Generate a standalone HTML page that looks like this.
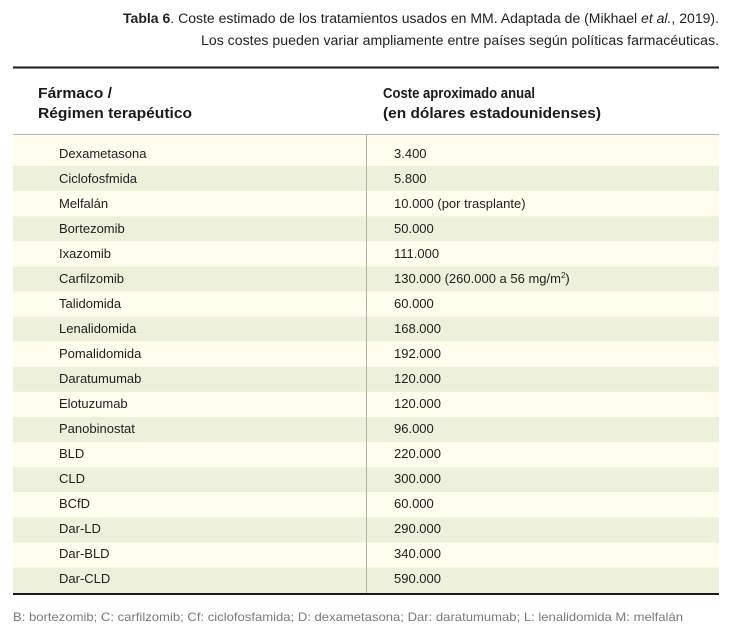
<!DOCTYPE html>
<html><head><meta charset="utf-8"><style>
html,body{margin:0;padding:0;background:#fff;}
svg{display:block;}
text{font-family:"Liberation Sans",sans-serif;}
</style></head><body>
<svg width="732" height="642" viewBox="0 0 732 642" xmlns="http://www.w3.org/2000/svg">
<rect width="732" height="642" fill="#fff"/>
<!-- title -->
<text x="123" y="23" font-size="13.5" fill="#222" textLength="596" lengthAdjust="spacingAndGlyphs"><tspan font-weight="bold">Tabla 6</tspan>. Coste estimado de los tratamientos usados en MM. Adaptada de (Mikhael <tspan font-style="italic">et al.</tspan>, 2019).</text>
<text x="201" y="45" font-size="13.5" fill="#222" textLength="518" lengthAdjust="spacingAndGlyphs">Los costes pueden variar ampliamente entre países según políticas farmacéuticas.</text>
<!-- top rule -->
<rect x="13" y="66.5" width="706" height="2" fill="#1a1a1a"/>
<!-- header -->
<text x="38" y="98" font-size="14.5" font-weight="bold" fill="#1a1a1a" textLength="74" lengthAdjust="spacingAndGlyphs">Fármaco /</text>
<text x="38" y="118" font-size="14.5" font-weight="bold" fill="#1a1a1a" textLength="154" lengthAdjust="spacingAndGlyphs">Régimen terapéutico</text>
<text x="383" y="98" font-size="14.5" font-weight="bold" fill="#1a1a1a" textLength="152" lengthAdjust="spacingAndGlyphs">Coste aproximado anual</text>
<text x="383" y="118" font-size="14.5" font-weight="bold" fill="#1a1a1a" textLength="218" lengthAdjust="spacingAndGlyphs">(en dólares estadounidenses)</text>
<!-- row bands -->
<rect x="13" y="135" width="706" height="31" fill="#fefdee"/>
<rect x="13" y="166" width="706" height="25.1" fill="#edf1dc"/>
<rect x="13" y="191.1" width="706" height="25.1" fill="#fefdee"/>
<rect x="13" y="216.2" width="706" height="25.1" fill="#edf1dc"/>
<rect x="13" y="241.3" width="706" height="25.1" fill="#fefdee"/>
<rect x="13" y="266.4" width="706" height="25.1" fill="#edf1dc"/>
<rect x="13" y="291.5" width="706" height="25.1" fill="#fefdee"/>
<rect x="13" y="316.6" width="706" height="25.1" fill="#edf1dc"/>
<rect x="13" y="341.7" width="706" height="25.1" fill="#fefdee"/>
<rect x="13" y="366.8" width="706" height="25.1" fill="#edf1dc"/>
<rect x="13" y="391.9" width="706" height="25.1" fill="#fefdee"/>
<rect x="13" y="417" width="706" height="25.1" fill="#edf1dc"/>
<rect x="13" y="442.1" width="706" height="25.1" fill="#fefdee"/>
<rect x="13" y="467.2" width="706" height="25.1" fill="#edf1dc"/>
<rect x="13" y="492.3" width="706" height="25.1" fill="#fefdee"/>
<rect x="13" y="517.4" width="706" height="25.1" fill="#edf1dc"/>
<rect x="13" y="542.5" width="706" height="25.1" fill="#fefdee"/>
<rect x="13" y="567.6" width="706" height="25.4" fill="#edf1dc"/>
<!-- header separator -->
<rect x="13" y="134" width="706" height="1" fill="#b8b8b0"/>
<!-- vertical divider -->
<rect x="366" y="135" width="1" height="458" fill="#b4b4a8"/>
<!-- bottom rule -->
<rect x="13" y="593" width="706" height="2" fill="#1a1a1a"/>
<!-- body text -->
<g font-size="13" fill="#1e1e1e">
<text x="59" y="158">Dexametasona</text><text x="394" y="158">3.400</text>
<text x="59" y="183">Ciclofosfmida</text><text x="394" y="183">5.800</text>
<text x="59" y="208">Melfalán</text><text x="394" y="208">10.000 (por trasplante)</text>
<text x="59" y="233">Bortezomib</text><text x="394" y="233">50.000</text>
<text x="59" y="258">Ixazomib</text><text x="394" y="258">111.000</text>
<text x="59" y="283">Carfilzomib</text><text x="394" y="283">130.000 (260.000 a 56 mg/m<tspan font-size="8" dy="-5">2</tspan><tspan dy="5">)</tspan></text>
<text x="59" y="308">Talidomida</text><text x="394" y="308">60.000</text>
<text x="59" y="333">Lenalidomida</text><text x="394" y="333">168.000</text>
<text x="59" y="358">Pomalidomida</text><text x="394" y="358">192.000</text>
<text x="59" y="383">Daratumumab</text><text x="394" y="383">120.000</text>
<text x="59" y="408">Elotuzumab</text><text x="394" y="408">120.000</text>
<text x="59" y="433">Panobinostat</text><text x="394" y="433">96.000</text>
<text x="59" y="458">BLD</text><text x="394" y="458">220.000</text>
<text x="59" y="483">CLD</text><text x="394" y="483">300.000</text>
<text x="59" y="508">BCfD</text><text x="394" y="508">60.000</text>
<text x="59" y="533">Dar-LD</text><text x="394" y="533">290.000</text>
<text x="59" y="558">Dar-BLD</text><text x="394" y="558">340.000</text>
<text x="59" y="583">Dar-CLD</text><text x="394" y="583">590.000</text>
</g>
<!-- footer -->
<text x="13" y="621" font-size="12" fill="#7a7a7a" textLength="670" lengthAdjust="spacingAndGlyphs">B: bortezomib; C: carfilzomib; Cf: ciclofosfamida; D: dexametasona; Dar: daratumumab; L: lenalidomida M: melfalán</text>
</svg>
</body></html>
